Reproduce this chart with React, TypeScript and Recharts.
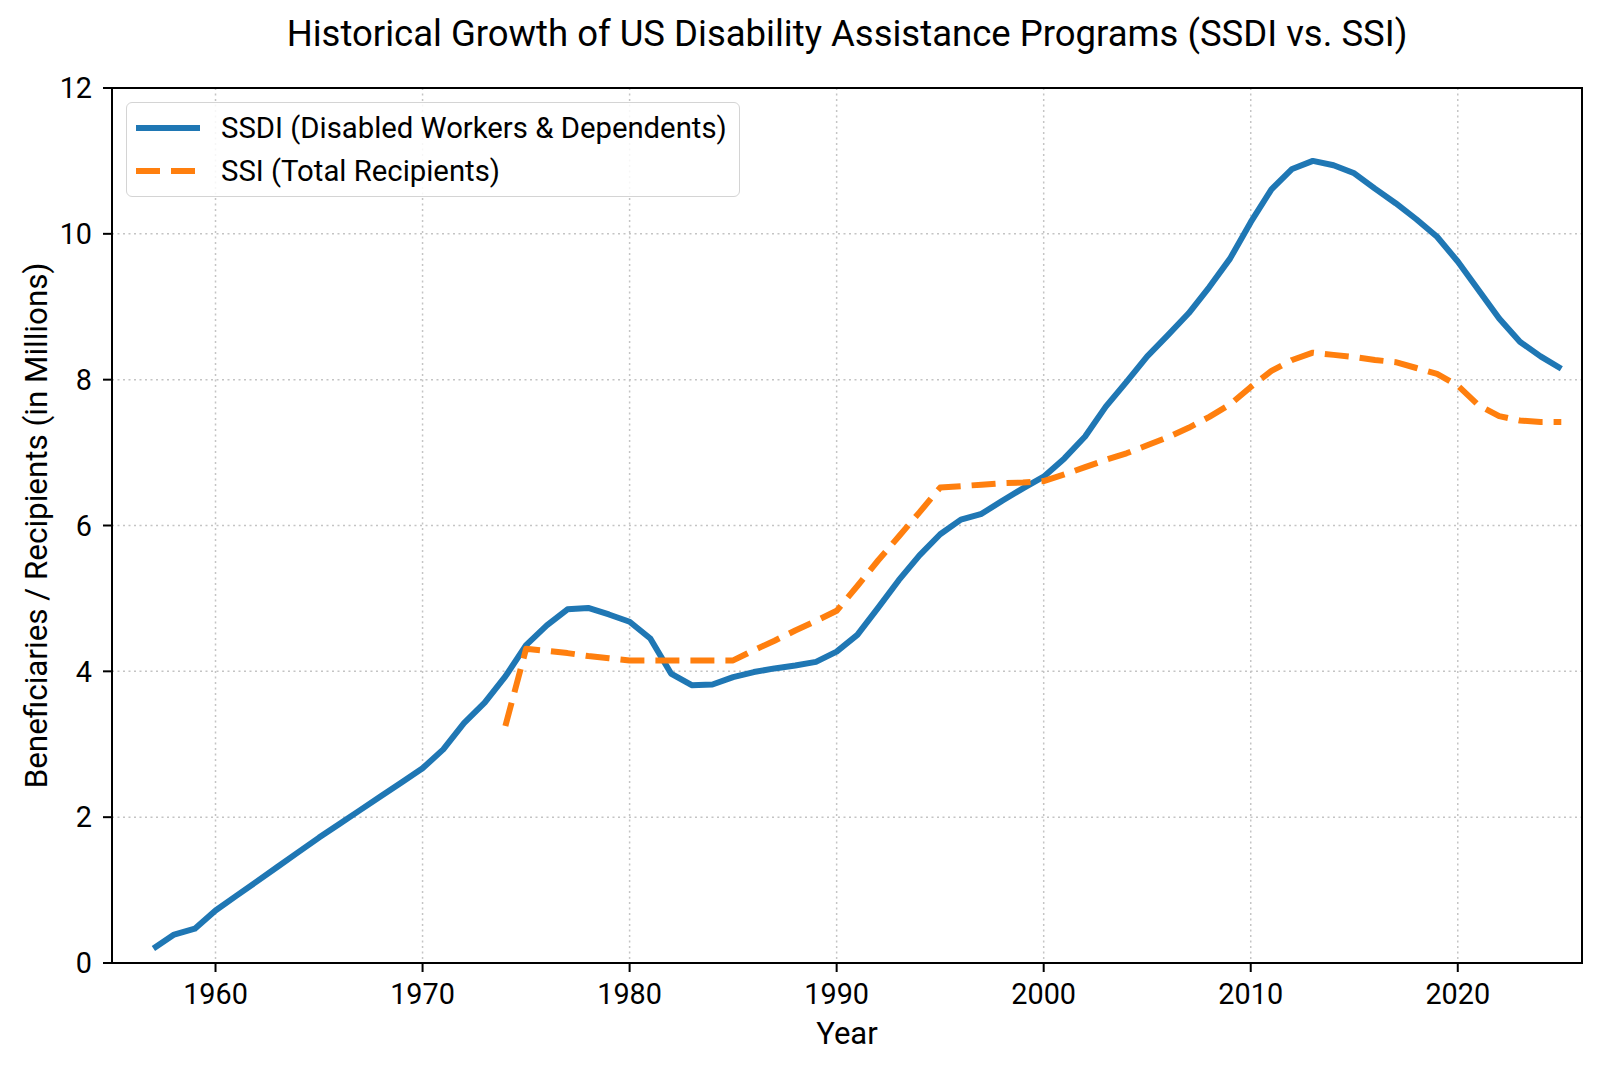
import React from 'react';
import {
  LineChart,
  Line,
  XAxis,
  YAxis,
  CartesianGrid,
  Legend,
  ReferenceArea,
} from 'recharts';

const FONT = 'Roboto, "Noto Sans", sans-serif';

const ssdiYears = [
  1957, 1958, 1959, 1960, 1961, 1962, 1963, 1964, 1965, 1966, 1967, 1968, 1969,
  1970, 1971, 1972, 1973, 1974, 1975, 1976, 1977, 1978, 1979, 1980, 1981, 1982,
  1983, 1984, 1985, 1986, 1987, 1988, 1989, 1990, 1991, 1992, 1993, 1994, 1995,
  1996, 1997, 1998, 1999, 2000, 2001, 2002, 2003, 2004, 2005, 2006, 2007, 2008,
  2009, 2010, 2011, 2012, 2013, 2014, 2015, 2016, 2017, 2018, 2019, 2020, 2021,
  2022, 2023, 2024, 2025,
];

// SSDI beneficiaries, millions (1957-2025)
const ssdiValues = [
  0.2, 0.39, 0.47, 0.72, 0.92, 1.12, 1.32, 1.52, 1.72, 1.91, 2.1, 2.29, 2.48,
  2.67, 2.93, 3.29, 3.57, 3.93, 4.36, 4.63, 4.85, 4.87, 4.78, 4.68, 4.45, 3.97,
  3.81, 3.82, 3.92, 3.99, 4.04, 4.08, 4.13, 4.27, 4.5, 4.87, 5.25, 5.59, 5.88,
  6.08, 6.16, 6.34, 6.51, 6.67, 6.92, 7.22, 7.63, 7.97, 8.32, 8.61, 8.91, 9.27,
  9.66, 10.16, 10.61, 10.89, 11.0, 10.94, 10.83, 10.62, 10.42, 10.2, 9.96, 9.62,
  9.23, 8.84, 8.52, 8.32, 8.15,
];

const ssiStartYear = 1974;

// SSI total recipients, millions (1974-2025)
const ssiValues = [
  3.25, 4.31, 4.28, 4.25, 4.21, 4.18, 4.15, 4.15, 4.15, 4.15, 4.15, 4.15, 4.29,
  4.42, 4.56, 4.69, 4.83, 5.17, 5.52, 5.85, 6.18, 6.52, 6.54, 6.56, 6.58, 6.59,
  6.61, 6.7, 6.8, 6.9, 6.99, 7.1, 7.21, 7.34, 7.49, 7.66, 7.9, 8.12, 8.27, 8.37,
  8.34, 8.31, 8.27, 8.24, 8.16, 8.08, 7.92, 7.65, 7.5, 7.44, 7.42, 7.42,
];

const xTicks = [1960, 1970, 1980, 1990, 2000, 2010, 2020];
const yTicks = [0, 2, 4, 6, 8, 10, 12];

const SERIES = [
  { key: 'ssdi', name: 'SSDI (Disabled Workers & Dependents)', color: '#1f77b4', dash: undefined },
  { key: 'ssi', name: 'SSI (Total Recipients)', color: '#ff7f0e', dash: '24 11' },
];

const data = ssdiYears.map((year, i) => {
  const j = year - ssiStartYear;
  return {
    year,
    ssdi: ssdiValues[i],
    ssi: j >= 0 && j < ssiValues.length ? ssiValues[j] : null,
  };
});

const LegendBox = () => (
  <div
    style={{
      width: 614,
      height: 95,
      boxSizing: 'border-box',
      border: '1.5px solid #d4d4d4',
      borderRadius: 6,
      background: 'rgba(255,255,255,0.85)',
      fontFamily: FONT,
      fontSize: 29.3,
      color: '#000',
      paddingTop: 3,
    }}
  >
    {SERIES.map((s) => (
      <div key={s.key} style={{ display: 'flex', alignItems: 'center', height: 43 }}>
        <svg width={94} height={20} style={{ flex: 'none' }}>
          <line
            x1={9}
            x2={73}
            y1={10}
            y2={10}
            stroke={s.color}
            strokeWidth={6}
            strokeDasharray={s.dash}
          />
        </svg>
        <span style={{ whiteSpace: 'nowrap' }}>{s.name}</span>
      </div>
    ))}
  </div>
);

const YLabel = ({ viewBox }: any) => {
  const cy = viewBox.y + viewBox.height / 2;
  return (
    <text
      x={36}
      y={cy}
      transform={`rotate(-90, 36, ${cy})`}
      textAnchor="middle"
      dominantBaseline="central"
      fontFamily={FONT}
      fontSize={31.4}
      fill="#000"
    >
      Beneficiaries / Recipients (in Millions)
    </text>
  );
};

const XLabel = ({ viewBox }: any) => (
  <text
    x={viewBox.x + viewBox.width / 2}
    y={1033}
    textAnchor="middle"
    dominantBaseline="central"
    fontFamily={FONT}
    fontSize={31}
    fill="#000"
  >
    Year
  </text>
);

export default function App() {
  const tickStyle = { fontFamily: FONT, fontSize: 28.8, fill: '#000' };
  return (
    <div style={{ position: 'relative', width: 1600, height: 1070, background: '#fff' }}>
      <style>{'body{margin:0}'}</style>
      <div
        style={{
          position: 'absolute',
          top: 12,
          left: 112,
          width: 1470,
          textAlign: 'center',
          fontFamily: FONT,
          fontSize: 36.5,
          color: '#000',
          whiteSpace: 'nowrap',
        }}
      >
        Historical Growth of US Disability Assistance Programs (SSDI vs. SSI)
      </div>
      <LineChart
        width={1600}
        height={1070}
        data={data}
        margin={{ top: 88, right: 18, left: 0, bottom: 0 }}
      >
        <CartesianGrid stroke="#c4c4c4" strokeWidth={1.5} strokeDasharray="2 3.5" />
        <XAxis
          dataKey="year"
          type="number"
          domain={[1955, 2026]}
          ticks={xTicks}
          allowDataOverflow
          height={107}
          tickSize={9}
          tickMargin={12}
          tick={tickStyle}
          axisLine={{ stroke: '#000', strokeWidth: 2 }}
          tickLine={{ stroke: '#000', strokeWidth: 2 }}
          label={<XLabel />}
        />
        <YAxis
          type="number"
          domain={[0, 12]}
          ticks={yTicks}
          allowDataOverflow
          width={112}
          tickSize={9}
          tickMargin={11}
          tick={tickStyle}
          axisLine={{ stroke: '#000', strokeWidth: 2 }}
          tickLine={{ stroke: '#000', strokeWidth: 2 }}
          label={<YLabel />}
        />
        <ReferenceArea
          x1={1955}
          x2={2026}
          y1={0}
          y2={12}
          fill="none"
          fillOpacity={0}
          stroke="#000"
          strokeWidth={2}
          ifOverflow="visible"
        />
        {SERIES.map((s) => (
          <Line
            key={s.key}
            type="linear"
            dataKey={s.key}
            name={s.name}
            stroke={s.color}
            strokeWidth={6}
            strokeDasharray={s.dash}
            strokeLinejoin="round"
            dot={false}
            activeDot={false}
            isAnimationActive={false}
          />
        ))}
        <Legend
          layout="horizontal"
          verticalAlign="middle"
          align="center"
          content={<LegendBox />}
          wrapperStyle={{ position: 'absolute', top: 102, left: 126, width: 614, height: 95 }}
        />
      </LineChart>
    </div>
  );
}
